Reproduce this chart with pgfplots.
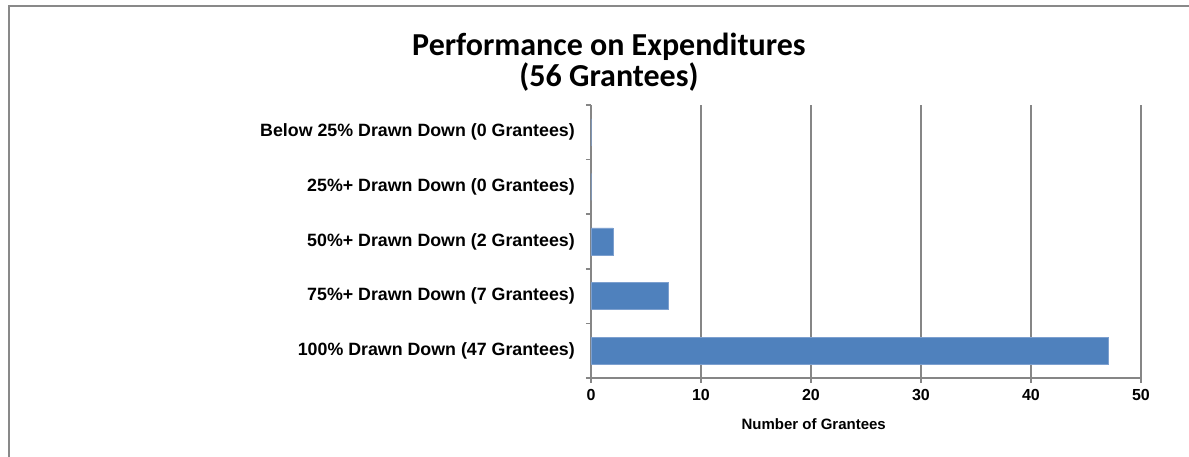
\documentclass[border=0pt]{standalone}
\usepackage{pgfplots}
\pgfplotsset{compat=1.18}
\usepackage{fontspec}
\setmainfont{Liberation Sans}
\newfontfamily\titlefont{Carlito}
\definecolor{barblue}{RGB}{79,129,189}
\definecolor{baredge}{RGB}{125,160,207}
\definecolor{gridgray}{RGB}{134,134,134}
\definecolor{framegray}{RGB}{137,137,137}
\begin{document}
\begin{tikzpicture}[x=1pt,y=1pt]
\useasboundingbox (-591,-79) rectangle (598,378);
\draw[framegray, line width=1.5pt] (-582,-80) -- (-582,372) -- (599,372);
\node[anchor=base, font=\titlefont\fontsize{32}{32}\selectfont\bfseries] at (18,322) {Performance on Expenditures};
\node[anchor=base, font=\titlefont\fontsize{32}{32}\selectfont\bfseries] at (18,291) {(56 Grantees)};
\begin{axis}[
  at={(0,0)}, anchor=south west,
  scale only axis, width=550pt, height=273pt,
  xbar, bar width=27pt,
  xmin=0, xmax=50, ymin=0.5, ymax=5.5,
  axis x line*=bottom, axis y line*=left,
  axis line style={gridgray, line width=1.5pt},
  xtick={0,10,...,50},
  xmajorgrids, major grid style={gridgray, line width=1.5pt},
  tick align=outside,
  major tick style={gridgray, line width=1.5pt},
  major tick length=5pt,
  ytick={0.5,1.5,2.5,3.5,4.5,5.5},
  yticklabels={},
  extra y ticks={1,2,3,4,5},
  extra y tick labels={100\% Drawn Down (47 Grantees),75\%+ Drawn Down (7 Grantees),50\%+ Drawn Down (2 Grantees),25\%+ Drawn Down (0 Grantees),Below 25\% Drawn Down (0 Grantees)},
  extra y tick style={major tick length=0pt, grid=none},
  y tick label style={font=\fontsize{17.8}{18}\selectfont\bfseries, inner sep=0pt, anchor=east, xshift=-16pt},
  x tick label style={font=\fontsize{16}{16}\selectfont\bfseries, inner sep=0pt, anchor=north, yshift=-6pt},
  /pgf/number format/assume math mode=true,
  xlabel={Number of Grantees},
  xlabel style={font=\fontsize{15}{15}\selectfont\bfseries, at={(axis description cs:0.405,0)}, anchor=base, yshift=-52pt},
]
\addplot[fill=barblue, draw=baredge, line width=0.75pt] coordinates {(47,1) (7,2) (2,3) (0,4) (0,5)};
\end{axis}
\end{tikzpicture}
\end{document}
